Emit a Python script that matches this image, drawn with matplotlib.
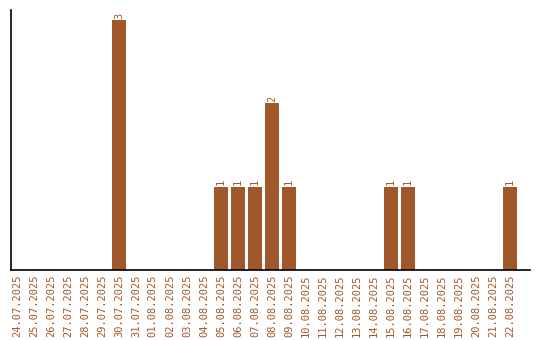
import matplotlib
matplotlib.use("Agg")
import matplotlib.pyplot as plt

dates = ["24.07.2025", "25.07.2025", "26.07.2025", "27.07.2025", "28.07.2025",
         "29.07.2025", "30.07.2025", "31.07.2025", "01.08.2025", "02.08.2025",
         "03.08.2025", "04.08.2025", "05.08.2025", "06.08.2025", "07.08.2025",
         "08.08.2025", "09.08.2025", "10.08.2025", "11.08.2025", "12.08.2025",
         "13.08.2025", "14.08.2025", "15.08.2025", "16.08.2025", "17.08.2025",
         "18.08.2025", "19.08.2025", "20.08.2025", "21.08.2025", "22.08.2025"]
counts = [0, 0, 0, 0, 0, 0, 3, 0, 0, 0,
          0, 0, 1, 1, 1, 2, 1, 0, 0, 0,
          0, 0, 1, 1, 0, 0, 0, 0, 0, 1]

col = "#a0582a"
fig = plt.figure(figsize=(5.4, 3.4), dpi=100)
ax = fig.add_axes([0.02, 0.206, 0.961, 0.764])

x = list(range(len(dates)))
bars = ax.bar(x, counts, width=0.82, color=col)
for xi, v in zip(x, counts):
    if v > 0:
        ax.text(xi, v + 0.02, str(v), rotation=90, ha="center", va="bottom",
                color=col, fontsize=7.5, family="DejaVu Sans Mono")

ax.set_xlim(-0.35, 30.15)
ax.set_ylim(0, 3.12)
ax.set_xticks(x)
ax.set_xticklabels(dates, rotation=90, color=col, fontsize=7.5, family="DejaVu Sans Mono")
ax.tick_params(axis="x", length=0, pad=3)
ax.set_yticks([])
ax.spines["top"].set_visible(False)
ax.spines["right"].set_visible(False)
ax.spines["left"].set_linewidth(1.2)
ax.spines["bottom"].set_linewidth(1.2)

fig.savefig("out.png", dpi=100)
